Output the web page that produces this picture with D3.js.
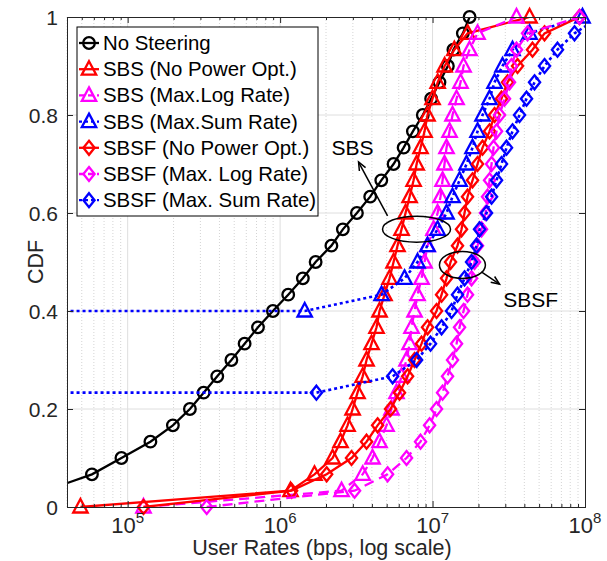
<!DOCTYPE html>
<html>
<head>
<meta charset="utf-8">
<script src="https://cdn.jsdelivr.net/npm/d3@7"></script>
<style>
  body { margin: 0; background: #fff; }
  svg { font-family: "Liberation Sans", Arial, sans-serif; }
</style>
</head>
<body>
<div id="chart"></div>
<script>
// user rates in bps, one value per CDF step (30 users)
const nUsers = 30;

const noSteering = [2.9e4, 5.83e4, 9.1e4, 1.41e5, 1.98e5, 2.56e5, 3.15e5, 3.87e5, 4.79e5, 5.85e5,
  7.16e5, 8.97e5, 1.13e6, 1.41e6, 1.71e6, 2.17e6, 2.58e6, 3.19e6, 3.90e6, 4.61e6,
  5.55e6, 6.46e6, 7.43e6, 8.63e6, 9.79e6, 1.11e7, 1.26e7, 1.37e7, 1.58e7, 1.75e7];

const sbsNoPower = [4.9e4, 1.17e6, 1.68e6, 2.21e6, 2.49e6, 2.77e6, 2.99e6, 3.22e6, 3.48e6, 3.69e6,
  3.98e6, 4.29e6, 4.49e6, 4.84e6, 5.22e6, 5.55e6, 5.89e6, 6.26e6, 6.65e6, 7.07e6,
  7.51e6, 7.86e6, 8.34e6, 8.86e6, 9.27e6, 1.0e7, 1.08e7, 1.2e7, 1.39e7, 1.70e7, 4.33e7];

const sbsMaxLog = [1.27e5, 2.53e6, 3.48e6, 4.04e6, 4.49e6, 4.99e6, 5.38e6, 5.80e6, 6.26e6, 6.75e6,
  7.07e6, 7.28e6, 7.62e6, 7.97e6, 8.47e6, 8.86e6, 9.27e6, 1.015e7, 1.079e7, 1.128e7,
  1.163e7, 1.198e7, 1.235e7, 1.293e7, 1.352e7, 1.437e7, 1.526e7, 1.597e7, 1.748e7, 1.973e7, 3.554e7];

// 12 of 30 users get (almost) nothing here
const sbsMaxSum = [1.45e6, 4.63e6, 6.55e6, 7.97e6, 9.27e6, 1.079e7, 1.235e7, 1.352e7, 1.503e7, 1.671e7,
  1.829e7, 1.973e7, 2.128e7, 2.365e7, 2.550e7, 2.877e7, 3.346e7, 4.326e7, 9.630e7];

const sbsfNoPower = [1.27e5, 1.19e6, 2.02e6, 2.94e6, 3.69e6, 4.36e6, 5.30e6, 6.07e6, 6.86e6, 7.62e6,
  8.47e6, 9.27e6, 1.062e7, 1.146e7, 1.235e7, 1.312e7, 1.458e7, 1.549e7, 1.621e7, 1.696e7,
  1.829e7, 1.973e7, 2.128e7, 2.365e7, 2.550e7, 2.834e7, 3.103e7, 3.609e7, 4.526e7, 5.426e7, 9.204e7];

const sbsfMaxLog = [3.30e5, 3.08e6, 5.07e6, 6.75e6, 8.34e6, 9.56e6, 1.062e7, 1.163e7, 1.254e7, 1.352e7,
  1.437e7, 1.503e7, 1.597e7, 1.696e7, 1.802e7, 1.886e7, 1.973e7, 2.096e7, 2.226e7, 2.295e7,
  2.365e7, 2.438e7, 2.512e7, 2.629e7, 2.750e7, 2.966e7, 3.198e7, 3.296e7, 3.554e7, 4.198e7, 9.204e7];

// 7 of 30 users get (almost) nothing here
const sbsfMaxSum = [1.73e6, 5.47e6, 7.86e6, 9.70e6, 1.146e7, 1.332e7, 1.458e7, 1.621e7, 1.802e7, 1.943e7,
  2.033e7, 2.260e7, 2.438e7, 2.629e7, 2.834e7, 3.057e7, 3.346e7, 3.720e7, 4.135e7, 4.666e7,
  5.426e7, 6.601e7, 8.534e7, 1.245e8];

const xTicks = [1e5, 1e6, 1e7, 1e8];
const yTicks = [0, 0.2, 0.4, 0.6, 0.8, 1];

const series = [
  {name: 'No Steering',             rates: noSteering,  start: 1,  color: '#000000', dash: null,   marker: 'circle'},
  {name: 'SBS (No Power Opt.)',     rates: sbsNoPower,  start: 0,  color: '#ff0000', dash: null,   marker: 'triangle'},
  {name: 'SBS (Max.Log Rate)',      rates: sbsMaxLog,   start: 0,  color: '#ff00ff', dash: '10,6', marker: 'triangle'},
  {name: 'SBS (Max.Sum Rate)',      rates: sbsMaxSum,   start: 12, color: '#0000ff', dash: '3,3',  marker: 'triangle', floor: true},
  {name: 'SBSF (No Power Opt.)',    rates: sbsfNoPower, start: 0,  color: '#ff0000', dash: null,   marker: 'diamond'},
  {name: 'SBSF (Max. Log Rate)',    rates: sbsfMaxLog,  start: 0,  color: '#ff00ff', dash: '10,6', marker: 'diamond'},
  {name: 'SBSF (Max. Sum Rate)',    rates: sbsfMaxSum,  start: 7,  color: '#0000ff', dash: '3,3',  marker: 'diamond', floor: true}
];

const W = 607, H = 561;
const margin = {left: 67, right: 22, top: 17, bottom: 54};
const w = W - margin.left - margin.right;
const h = H - margin.top - margin.bottom;

const x = d3.scaleLog().domain([4e4, 1e8]).range([0, w]);
const y = d3.scaleLinear().domain([0, 1]).range([h, 0]);

const svg = d3.select('#chart').append('svg')
  .attr('width', W)
  .attr('height', H);

const g = svg.append('g').attr('transform', `translate(${margin.left},${margin.top})`);

svg.append('defs').append('clipPath').attr('id', 'plot-clip')
  .append('rect').attr('width', w).attr('height', h);

// minor tick values 2..9 x 10^n inside the domain
const minor = [];
[1e4, 1e5, 1e6, 1e7].forEach(d => {
  for (let m = 2; m <= 9; m++) {
    const v = m * d;
    if (v >= x.domain()[0] && v <= x.domain()[1]) minor.push(v);
  }
});

// grid
const grid = g.append('g').attr('class', 'grid');
grid.selectAll('line.minor').data(minor).enter().append('line')
  .attr('x1', d => x(d)).attr('x2', d => x(d)).attr('y1', 0).attr('y2', h)
  .attr('stroke', '#d4d4d4').attr('stroke-dasharray', '1,2');
grid.selectAll('line.vmaj').data(xTicks.slice(0, 3)).enter().append('line')
  .attr('x1', d => x(d)).attr('x2', d => x(d)).attr('y1', 0).attr('y2', h)
  .attr('stroke', '#dedede');
grid.selectAll('line.hmaj').data(yTicks.slice(1, 5)).enter().append('line')
  .attr('x1', 0).attr('x2', w).attr('y1', d => y(d)).attr('y2', d => y(d))
  .attr('stroke', '#dedede');

// marker shapes
function markerPath(type) {
  if (type === 'triangle') return 'M0,-8L7.2,5.5L-7.2,5.5Z';
  if (type === 'diamond') return 'M0,-7L5.6,0L0,7L-5.6,0Z';
  return d3.symbol(d3.symbolCircle, Math.PI * 5.8 * 5.8)();
}

// build points per series
series.forEach(s => {
  s.points = s.rates.map((r, i) => ({rate: r, cdf: (s.start + i) / nUsers}));
  s.linePoints = s.floor
    ? [{rate: x.domain()[0] / 10, cdf: s.start / nUsers}].concat(s.points)
    : s.points;
});

const line = d3.line().x(d => x(d.rate)).y(d => y(d.cdf));

const plot = g.append('g').attr('class', 'plot');

series.forEach(s => {
  plot.append('path')
    .datum(s.linePoints)
    .attr('clip-path', 'url(#plot-clip)')
    .attr('fill', 'none')
    .attr('stroke', s.color)
    .attr('stroke-width', s.dash === '3,3' ? 2.6 : 2.3)
    .attr('stroke-dasharray', s.dash)
    .attr('d', line);

  plot.append('g').selectAll('path')
    .data(s.points.filter(p => p.rate >= x.domain()[0] && p.rate <= x.domain()[1]))
    .enter().append('path')
    .attr('transform', p => `translate(${x(p.rate)},${y(p.cdf)})`)
    .attr('d', markerPath(s.marker))
    .attr('fill', 'none')
    .attr('stroke', s.color)
    .attr('stroke-width', 2.3);
});

// axes box and ticks (inward, like matlab)
const axisColor = '#262626';
const ax = g.append('g').attr('class', 'axes');

ax.append('g').attr('transform', `translate(0,${h})`)
  .call(d3.axisBottom(x).tickValues(xTicks).tickSize(-6).tickFormat(''));
ax.append('g').attr('transform', `translate(0,${h})`)
  .call(d3.axisBottom(x).tickValues(minor).tickSize(-3).tickFormat(''));
ax.append('g')
  .call(d3.axisTop(x).tickValues(xTicks).tickSize(-6).tickFormat(''));
ax.append('g')
  .call(d3.axisTop(x).tickValues(minor).tickSize(-3).tickFormat(''));
ax.append('g')
  .call(d3.axisLeft(y).tickValues(yTicks).tickSize(-6).tickFormat(''));
ax.append('g').attr('transform', `translate(${w},0)`)
  .call(d3.axisRight(y).tickValues(yTicks).tickSize(-6).tickFormat(''));

ax.selectAll('.domain').attr('stroke', axisColor).attr('stroke-width', 1);
ax.selectAll('.tick line').attr('stroke', axisColor);

// tick labels
const xl = g.append('g').attr('fill', axisColor).attr('font-size', 22);
xl.selectAll('text').data(xTicks).enter().append('text')
  .attr('x', d => x(d)).attr('y', h + 26)
  .attr('text-anchor', 'middle')
  .each(function(d) {
    const t = d3.select(this);
    t.append('tspan').text('10');
    t.append('tspan').attr('font-size', 15).attr('dy', -10).text(Math.round(Math.log10(d)));
  });

g.append('g').attr('fill', axisColor).attr('font-size', 21)
  .selectAll('text').data(yTicks).enter().append('text')
  .attr('x', -9).attr('y', d => y(d) + 7.5)
  .attr('text-anchor', 'end')
  .text(d => d3.format('~g')(d));

// axis titles
g.append('text')
  .attr('x', w / 2 - 4).attr('y', h + 48)
  .attr('text-anchor', 'middle')
  .attr('font-size', 21.5).attr('fill', axisColor)
  .text('User Rates (bps, log scale)');

g.append('text')
  .attr('transform', `translate(-24,${h / 2}) rotate(-90)`)
  .attr('text-anchor', 'middle')
  .attr('font-size', 21.5).attr('fill', axisColor)
  .text('CDF');

// annotations
const ann = g.append('g').attr('stroke', '#000').attr('stroke-width', 1.5).attr('fill', 'none');

ann.append('ellipse')
  .attr('cx', x(7.85e6)).attr('cy', y(0.567)).attr('rx', 34).attr('ry', 13);
ann.append('ellipse')
  .attr('cx', x(1.57e7)).attr('cy', y(0.494)).attr('rx', 23).attr('ry', 13.5);

function arrow(x1, y1, x2, y2) {
  const a = Math.atan2(y2 - y1, x2 - x1);
  const len = 9, spread = 0.4;
  ann.append('line').attr('x1', x1).attr('y1', y1).attr('x2', x2).attr('y2', y2);
  ann.append('path')
    .attr('d', `M${x2 - len * Math.cos(a - spread)},${y2 - len * Math.sin(a - spread)}` +
      `L${x2},${y2}L${x2 - len * Math.cos(a + spread)},${y2 - len * Math.sin(a + spread)}`);
}
arrow(x(5.07e6), y(0.594), x(3.27e6), y(0.704));
arrow(x(2.09e7), y(0.48), x(2.75e7), y(0.455));

g.append('text')
  .attr('x', x(2.99e6)).attr('y', y(0.718))
  .attr('text-anchor', 'middle').attr('font-size', 21).attr('fill', '#000')
  .text('SBS');
g.append('text')
  .attr('x', x(4.4e7)).attr('y', y(0.408))
  .attr('text-anchor', 'middle').attr('font-size', 21).attr('fill', '#000')
  .text('SBSF');

// legend
const lg = g.append('g').attr('transform', 'translate(10,10)');
lg.append('rect')
  .attr('width', 241).attr('height', 189)
  .attr('fill', '#fff').attr('stroke', '#000').attr('stroke-width', 1);

const rows = lg.selectAll('g.row').data(series).enter().append('g')
  .attr('class', 'row')
  .attr('transform', (d, i) => `translate(0,${16 + i * 26.2})`);

rows.append('line')
  .attr('x1', 2).attr('x2', 22)
  .attr('stroke', d => d.color).attr('stroke-width', 2.3)
  .attr('stroke-dasharray', d => d.dash ? (d.dash === '3,3' ? '3,3' : '6,3') : null);
rows.append('path')
  .attr('transform', 'translate(12,0)')
  .attr('d', d => markerPath(d.marker))
  .attr('fill', 'none').attr('stroke', d => d.color).attr('stroke-width', 2.3);
rows.append('text')
  .attr('x', 26).attr('y', 7)
  .attr('font-size', 20.4).attr('fill', '#000')
  .text(d => d.name);
</script>
</body>
</html>
